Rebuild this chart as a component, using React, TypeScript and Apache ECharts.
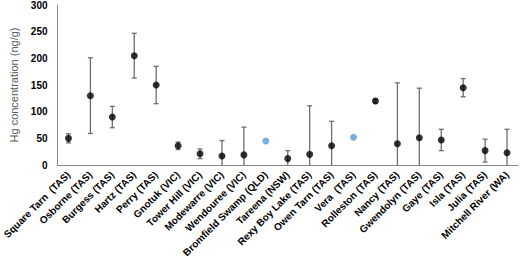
import React, { useEffect, useRef } from "react";
import * as echarts from "echarts";

const categories = [
  "Square Tarn  (TAS)",
  "Osborne (TAS)",
  "Burgess (TAS)",
  "Hartz (TAS)",
  "Perry (TAS)",
  "Gnotuk (VIC)",
  "Tower Hill (VIC)",
  "Modewarre (VIC)",
  "Wendouree (VIC)",
  "Bromfield Swamp (QLD)",
  "Tareena (NSW)",
  "Rexy Boy Lake (TAS)",
  "Owen Tarn (TAS)",
  "Vera  (TAS)",
  "Rolleston (TAS)",
  "Nancy (TAS)",
  "Gwendolyn (TAS)",
  "Gaye (TAS)",
  "Isla (TAS)",
  "Julia (TAS)",
  "Mitchell River (WA)",
];

// mean Hg concentrations, black markers (null where the marker is blue)
const blackMeans: (number | null)[] = [
  50, 130, 90, 205, 150, 36, 21, 17, 19, null, 12, 20, 36, null, 120, 40, 51, 47, 145, 27, 23,
];
// blue markers (no error bars)
const blueMeans: (number | null)[] = [
  null, null, null, null, null, null, null, null, null, 45, null, null, null, 52, null, null, null, null, null, null, null,
];
// standard deviations (symmetric error bars)
const sds: (number | null)[] = [
  8.5, 71, 20, 42, 35, 7, 9, 29, 52, null, 15, 91, 46, null, 4, 114, 93, 20, 17, 21.5, 44,
];

const yTicks = [0, 50, 100, 150, 200, 250, 300];

export default function App() {
  const ref = useRef<HTMLDivElement>(null);
  useEffect(() => {
    document.body.style.margin = "0";
    const chart = echarts.init(ref.current!, null, { renderer: "svg" });
    const errData = categories
      .map((_, i) => (sds[i] != null && blackMeans[i] != null ? [i, blackMeans[i], sds[i]] : null))
      .filter((d) => d !== null);
    const font = "Arial, 'Liberation Sans', sans-serif";
    chart.setOption({
      animation: false,
      grid: { left: 50, right: 2, top: 4, bottom: 88, containLabel: false },
      xAxis: {
        type: "category",
        data: categories,
        boundaryGap: true,
        axisTick: { show: false },
        axisLine: { lineStyle: { color: "#868686", width: 1 } },
        axisLabel: {
          interval: 0,
          rotate: 45,
          fontFamily: font,
          fontWeight: "bold",
          fontSize: 10,
          color: "#000",
          margin: 8,
        },
        splitLine: { show: false },
      },
      yAxis: {
        type: "value",
        min: yTicks[0],
        max: yTicks[yTicks.length - 1],
        interval: 50,
        name: "Hg concentration (ng/g)",
        nameLocation: "middle",
        nameRotate: 90,
        nameGap: 35,
        nameTextStyle: { fontFamily: font, fontSize: 11, color: "#595959" },
        axisLine: { show: true, lineStyle: { color: "#868686", width: 1 } },
        axisTick: { show: false },
        splitLine: { show: false },
        axisLabel: {
          fontFamily: font,
          fontWeight: "bold",
          fontSize: 10,
          color: "#000",
          margin: 10,
        },
      },
      series: [
        {
          type: "custom",
          z: 1,
          data: errData,
          renderItem: (params: any, api: any) => {
            const x = api.value(0);
            const m = api.value(1);
            const s = api.value(2);
            const top = api.coord([x, m + s]);
            const bot = api.coord([x, m - s]);
            const cs = params.coordSys;
            const yMin = cs.y;
            const yMax = cs.y + cs.height;
            const clamp = (v: number) => Math.min(Math.max(v, yMin), yMax);
            const style = { stroke: "#6e6e6e", lineWidth: 1.3 };
            const children: any[] = [
              {
                type: "line",
                shape: { x1: top[0], y1: clamp(top[1]), x2: bot[0], y2: clamp(bot[1]) },
                style,
              },
            ];
            const hw = 2.5;
            if (top[1] >= yMin && top[1] <= yMax) {
              children.push({
                type: "line",
                shape: { x1: top[0] - hw, y1: top[1], x2: top[0] + hw, y2: top[1] },
                style,
              });
            }
            if (bot[1] >= yMin && bot[1] <= yMax - 0.5) {
              children.push({
                type: "line",
                shape: { x1: bot[0] - hw, y1: bot[1], x2: bot[0] + hw, y2: bot[1] },
                style,
              });
            }
            return { type: "group", children };
          },
        },
        {
          type: "scatter",
          z: 2,
          data: blackMeans,
          symbol: "circle",
          symbolSize: 7,
          itemStyle: { color: "#000" },
        },
        {
          type: "scatter",
          z: 2,
          data: blueMeans,
          symbol: "circle",
          symbolSize: 7,
          itemStyle: { color: "#5B9BD5" },
        },
      ],
    });
    return () => chart.dispose();
  }, []);
  return <div ref={ref} style={{ width: 520, height: 260 }} />;
}
